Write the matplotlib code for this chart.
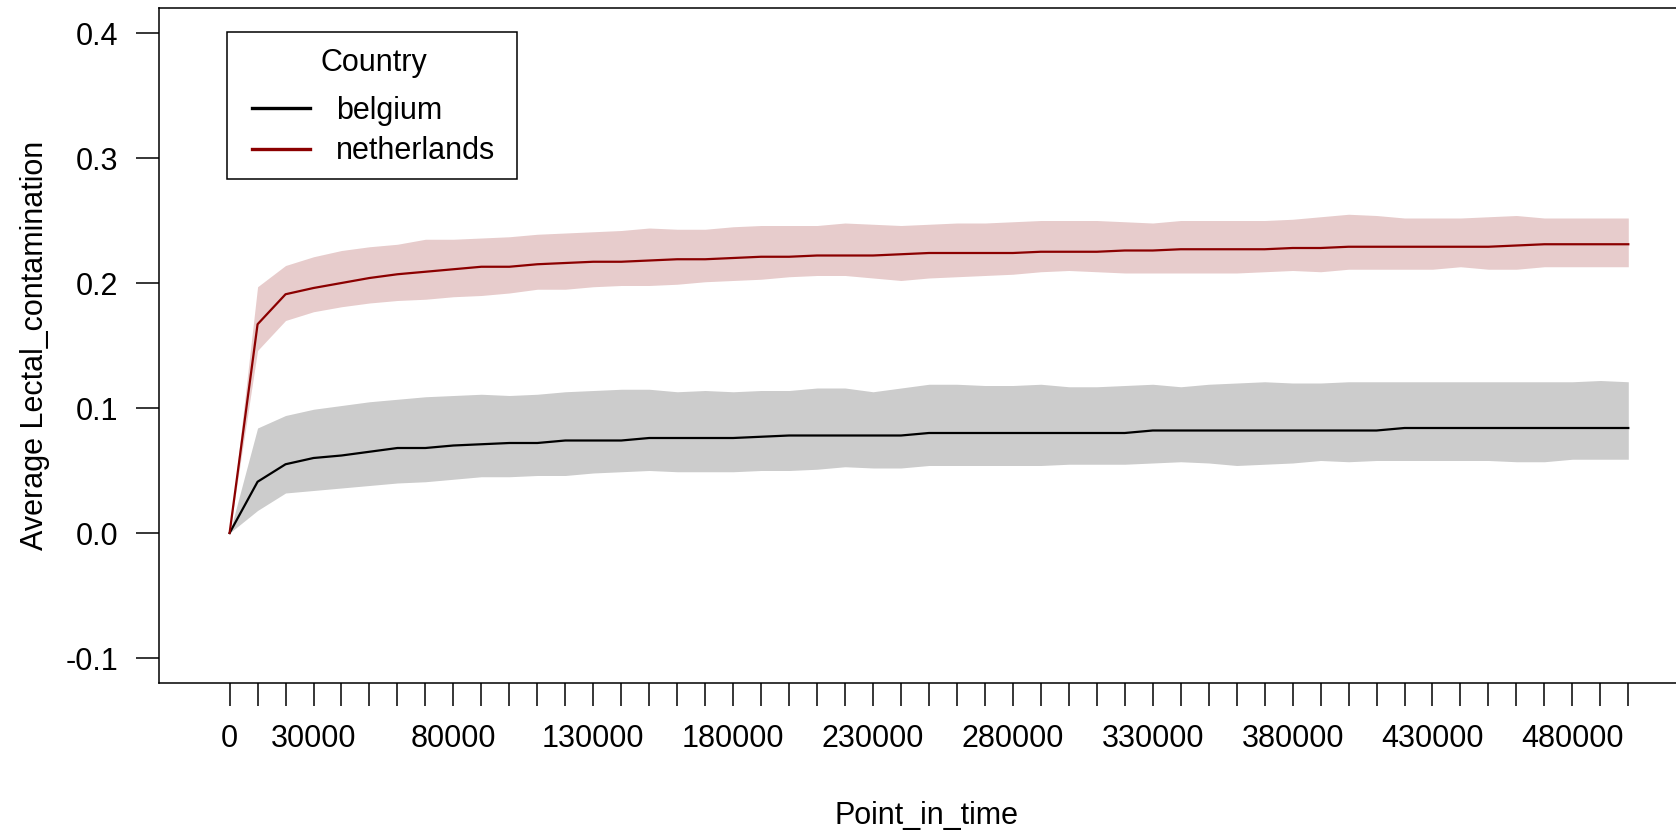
import matplotlib
matplotlib.use("Agg")
import matplotlib.pyplot as plt
from matplotlib.patches import Rectangle

plt.rcParams['font.family'] = ['Liberation Sans', 'DejaVu Sans']

# ---- data ----
point_in_time = list(range(0, 500001, 10000))

netherlands_mean = [0, 0.167, 0.191, 0.196, 0.200, 0.204, 0.207, 0.209, 0.211, 0.213,
                    0.213, 0.215, 0.216, 0.217, 0.217, 0.218, 0.219, 0.219, 0.220, 0.221,
                    0.221, 0.222, 0.222, 0.222, 0.223, 0.224, 0.224, 0.224, 0.224, 0.225,
                    0.225, 0.225, 0.226, 0.226, 0.227, 0.227, 0.227, 0.227, 0.228, 0.228,
                    0.229, 0.229, 0.229, 0.229, 0.229, 0.229, 0.230, 0.231, 0.231, 0.231,
                    0.231]
netherlands_upper = [0, 0.197, 0.214, 0.221, 0.226, 0.229, 0.231, 0.235, 0.235, 0.236,
                     0.237, 0.239, 0.240, 0.241, 0.242, 0.244, 0.243, 0.243, 0.245, 0.246,
                     0.246, 0.246, 0.248, 0.247, 0.246, 0.247, 0.248, 0.248, 0.249, 0.250,
                     0.250, 0.250, 0.249, 0.248, 0.250, 0.250, 0.250, 0.250, 0.251, 0.253,
                     0.255, 0.254, 0.252, 0.252, 0.252, 0.253, 0.254, 0.252, 0.252, 0.252,
                     0.252]
netherlands_lower = [0, 0.146, 0.170, 0.177, 0.181, 0.184, 0.186, 0.187, 0.189, 0.190,
                     0.192, 0.195, 0.195, 0.197, 0.198, 0.198, 0.199, 0.201, 0.202, 0.203,
                     0.205, 0.206, 0.206, 0.204, 0.202, 0.204, 0.205, 0.206, 0.207, 0.209,
                     0.210, 0.209, 0.208, 0.208, 0.208, 0.208, 0.208, 0.209, 0.210, 0.209,
                     0.211, 0.211, 0.211, 0.211, 0.213, 0.211, 0.211, 0.213, 0.213, 0.213,
                     0.213]

belgium_mean = [0, 0.041, 0.055, 0.060, 0.062, 0.065, 0.068, 0.068, 0.070, 0.071,
                0.072, 0.072, 0.074, 0.074, 0.074, 0.076, 0.076, 0.076, 0.076, 0.077,
                0.078, 0.078, 0.078, 0.078, 0.078, 0.080, 0.080, 0.080, 0.080, 0.080,
                0.080, 0.080, 0.080, 0.082, 0.082, 0.082, 0.082, 0.082, 0.082, 0.082,
                0.082, 0.082, 0.084, 0.084, 0.084, 0.084, 0.084, 0.084, 0.084, 0.084,
                0.084]
belgium_upper = [0, 0.084, 0.094, 0.099, 0.102, 0.105, 0.107, 0.109, 0.110, 0.111,
                 0.110, 0.111, 0.113, 0.114, 0.115, 0.115, 0.113, 0.114, 0.113, 0.114,
                 0.114, 0.116, 0.116, 0.113, 0.116, 0.119, 0.119, 0.118, 0.118, 0.119,
                 0.117, 0.117, 0.118, 0.119, 0.117, 0.119, 0.120, 0.121, 0.120, 0.120,
                 0.121, 0.121, 0.121, 0.121, 0.121, 0.121, 0.121, 0.121, 0.121, 0.122,
                 0.121]
belgium_lower = [0, 0.018, 0.032, 0.034, 0.036, 0.038, 0.040, 0.041, 0.043, 0.045,
                 0.045, 0.046, 0.046, 0.048, 0.049, 0.050, 0.049, 0.049, 0.049, 0.050,
                 0.050, 0.051, 0.053, 0.052, 0.052, 0.054, 0.054, 0.054, 0.054, 0.054,
                 0.055, 0.055, 0.055, 0.056, 0.057, 0.056, 0.054, 0.055, 0.056, 0.058,
                 0.057, 0.058, 0.058, 0.058, 0.058, 0.058, 0.057, 0.057, 0.059, 0.059,
                 0.059]

countries = ["belgium", "netherlands"]
x_tick_values = list(range(0, 500001, 10000))
x_label_values = [0, 30000, 80000, 130000, 180000, 230000, 280000, 330000, 380000, 430000, 480000]
y_tick_values = [-0.1, 0.0, 0.1, 0.2, 0.3, 0.4]

# ---- figure ----
W, H, DPI = 1676, 832, 100
fig = plt.figure(figsize=(W / DPI, H / DPI), dpi=DPI)
left_px, right_px, top_px, bottom_px = 159, 1693, 8, 683
ax = fig.add_axes([left_px / W, 1 - bottom_px / H, (right_px - left_px) / W, (bottom_px - top_px) / H])

line_colors = {"belgium": "black", "netherlands": "#8B0000"}
fill_colors = {"belgium": (0, 0, 0, 0.2), "netherlands": (0.545, 0, 0, 0.2)}
series = {
    "belgium": (belgium_mean, belgium_lower, belgium_upper),
    "netherlands": (netherlands_mean, netherlands_lower, netherlands_upper),
}

for c in countries:
    m, lo, hi = series[c]
    ax.fill_between(point_in_time, lo, hi, color=fill_colors[c], linewidth=0, zorder=1)
for c in countries:
    m, lo, hi = series[c]
    ax.plot(point_in_time, m, color=line_colors[c], linewidth=1.6, label=c, zorder=2)

ax.set_xlim(-25238, 523128)
ax.set_ylim(-0.12, 0.42)

ax.set_xticks(x_tick_values)
ax.set_xticklabels([str(v) if v in x_label_values else "" for v in x_tick_values])
ax.set_yticks(y_tick_values)
ax.set_yticklabels([f"{v:.1f}" for v in y_tick_values])

ax.tick_params(axis='both', direction='out', length=16.5, width=1.1, labelsize=22, color='black')
ax.tick_params(axis='x', pad=13)
ax.tick_params(axis='y', pad=13)

for s in ax.spines.values():
    s.set_linewidth(1.1)
    s.set_color('black')

ax.set_xlabel("Point_in_time", fontsize=22, labelpad=34)
ax.set_ylabel("Average Lectal_contamination", fontsize=22, labelpad=11)

# legend frame (R-style box) drawn separately, legend content without frame
frame = Rectangle((227 / W, 1 - 178.5 / H), 290 / W, 146.5 / H, transform=fig.transFigure,
                  facecolor='white', edgecolor='black', linewidth=1.1, zorder=4, clip_on=False)
ax.add_patch(frame)

leg = ax.legend(title="Country", loc='upper left',
                bbox_to_anchor=(252 / W, 1 - 48 / H), bbox_transform=fig.transFigure,
                fontsize=22, title_fontsize=22, frameon=False, borderpad=0,
                handlelength=1.9, handletextpad=0.85, labelspacing=0.34, borderaxespad=0)
leg.set_zorder(5)
leg._legend_box.sep = 13
for h in leg.get_lines():
    h.set_linewidth(2.4)

fig.savefig("out.png", dpi=DPI)
